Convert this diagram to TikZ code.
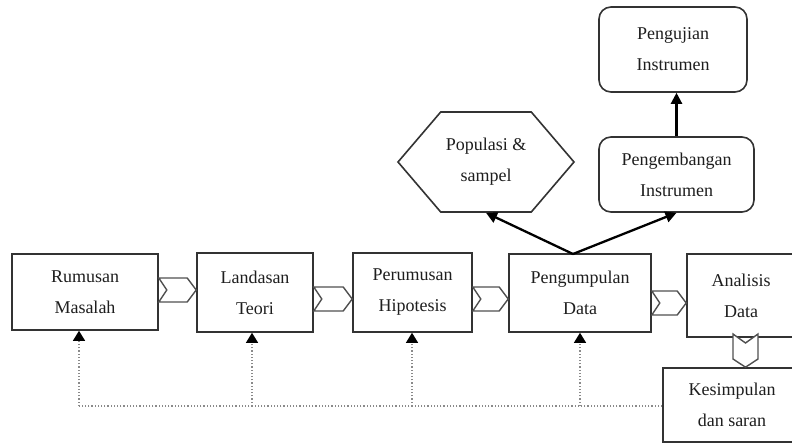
\documentclass[tikz,border=0pt]{standalone}
\usepackage{fontspec}
\setmainfont{Liberation Serif}
\usetikzlibrary{arrows.meta,calc,shapes.symbols}

\definecolor{boxline}{HTML}{333333}
\definecolor{chevline}{HTML}{505050}
\definecolor{fbline}{HTML}{8A8A8A}
\definecolor{ink}{HTML}{1E1E1E}

% horizontal block arrow: notched tail at #1, point touching #2, centred on y=#3
\newcommand\hchev[3]{%
  \draw[chev] (#1.east |- 0,#3-12) -- ($(#2.west |- 0,#3-12)+(-9,0)$)
    -- (#2.west |- 0,#3) -- ($(#2.west |- 0,#3+12)+(-9,0)$)
    -- (#1.east |- 0,#3+12) -- ($(#1.east |- 0,#3)+(8,0)$) -- cycle;}

\begin{document}
\begin{tikzpicture}[x=1pt,y=-1pt,
  txt/.style={align=center, text=ink, font=\fontsize{18}{31}\selectfont, inner sep=0pt},
  box/.style={txt, draw=boxline, line width=1.6pt, fill=white},
  rbox/.style={box, rounded corners=12pt},
  chev/.style={draw=chevline, line width=1.4pt, fill=white, line join=miter},
  arr/.style={draw=black, line width=2.3pt, -{Triangle[length=11pt,width=11pt]}},
  fb/.style={draw=fbline, line width=1.2pt, dotted},
  fbarr/.style={fb, -{Triangle[length=10pt,width=12pt,color=black,fill=black]}}]
\useasboundingbox (0,0) rectangle (792,444);
\clip (0,0) rectangle (792,444);
\fill[white] (0,0) rectangle (792,444);

% main row of steps
\node[box, minimum width=146pt, minimum height=76pt] (rm) at (85,292)    {Rumusan\\Masalah};
\node[box, minimum width=116pt, minimum height=79pt] (lt) at (255,292.5) {Landasan\\Teori};
\node[box, minimum width=119pt, minimum height=79pt] (ph) at (412.5,292.5) {Perumusan\\Hipotesis};
\node[box, minimum width=142pt, minimum height=78pt] (pg) at (580,293)   {Pengumpulan\\Data};
\node[box, minimum width=108pt, minimum height=83pt] (ad) at (741,295.5) {Analisis\\Data};
\node[box, minimum width=138pt, minimum height=74pt] (ks) at (732,405)   {Kesimpulan\\dan saran};

% branches above the data collection step
\node[txt, draw=boxline, line width=1.6pt, signal, signal to=west and east,
      signal pointer angle=99, minimum width=176pt, minimum height=100pt] (pop) at (486,162) {Populasi \&\\sampel};
\node[rbox, minimum width=155pt, minimum height=75pt] (pe) at (676.5,174.5) {Pengembangan\\Instrumen};
\node[rbox, minimum width=148pt, minimum height=85pt] (pu) at (673,49.5)   {Pengujian\\Instrumen};

% block arrows between steps
\hchev{rm}{lt}{290}
\hchev{lt}{ph}{299}
\hchev{ph}{pg}{299}
\hchev{pg}{ad}{303}
\draw[chev] (733,334) -- (745.5,343) -- (758,334) -- (758,359)
  -- (745.5,0 |- ks.north) -- (733,359) -- cycle;

% solid arrows
\coordinate (split) at (573,254);
\draw[arr] (split) -- (pop.south);
\draw[arr] (split) -- (pe.south);
\draw[arr] (pe.north) -- (pe.north |- pu.south);

% dotted feedback from the conclusion back to earlier steps
\coordinate (f1) at (79,406);
\coordinate (f2) at (252,406);
\coordinate (f3) at (412,406);
\coordinate (f4) at (580,406);
\draw[fb] (ks.west |- f1) -- (f1);
\draw[fbarr] (f1) -- (f1 |- rm.south);
\draw[fbarr] (f2) -- (f2 |- lt.south);
\draw[fbarr] (f3) -- (f3 |- ph.south);
\draw[fbarr] (f4) -- (f4 |- pg.south);
\end{tikzpicture}
\end{document}
